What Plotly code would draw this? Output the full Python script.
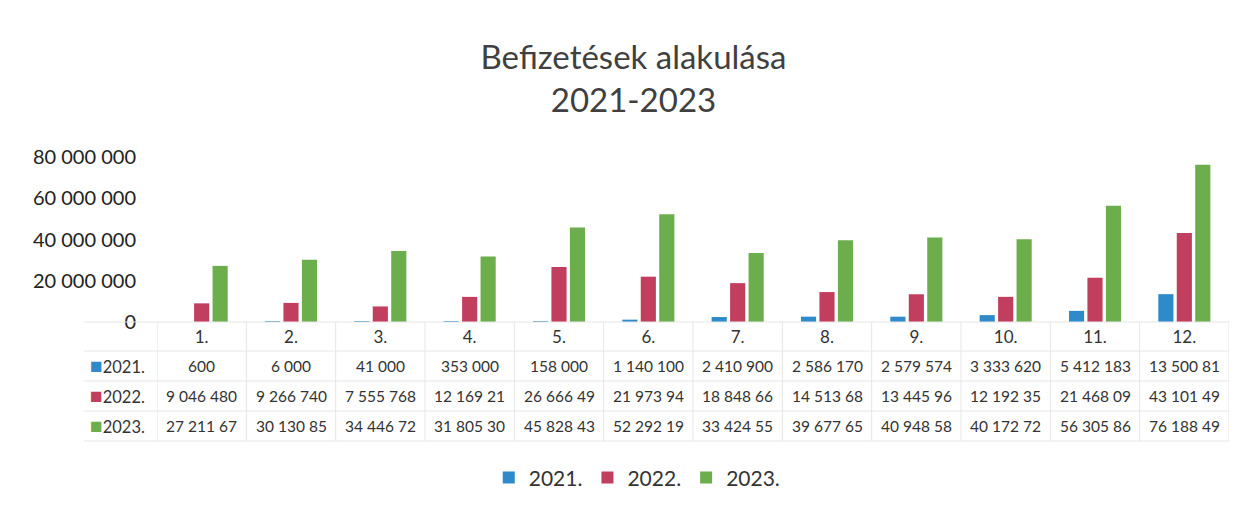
import plotly.graph_objects as go

months = ["1.", "2.", "3.", "4.", "5.", "6.", "7.", "8.", "9.", "10.", "11.", "12."]
series_names = ["2021.", "2022.", "2023."]
v2021 = [600, 6000, 41000, 353000, 158000, 1140100, 2410900, 2586170, 2579574, 3333620, 5412183, 13500810]
v2022 = [9046480, 9266740, 7555768, 12169210, 26666490, 21973940, 18848660, 14513680, 13445960, 12192350, 21468090, 43101490]
v2023 = [27211670, 30130850, 34446720, 31805300, 45828430, 52292190, 33424550, 39677650, 40948580, 40172720, 56305860, 76188490]
series_values = [v2021, v2022, v2023]
colors = ["#2F8ACB", "#C23E5E", "#6CAE4C"]
y_ticks = [0, 20000000, 40000000, 60000000, 80000000]

FONT = "Lato"
TXT = "#333333"
GRID = "#E6E6E6"
PLOT_H = 165

fig = go.Figure()
for name, vals, col in zip(series_names, series_values, colors):
    fig.add_trace(go.Bar(x=months, y=vals, name=name, marker=dict(color=col, line=dict(width=0))))


def fmt(v):
    # the table cells in the source are cut to 9 characters
    return f"{v:,}".replace(",", " ")[:9]


row_shift = [-44, -74, -104]
annotations = []
shapes = []
for r, (name, vals, col) in enumerate(zip(series_names, series_values, colors)):
    for k, v in enumerate(vals):
        annotations.append(dict(x=k, xref="x", y=0, yref="paper", yshift=row_shift[r],
                                text=fmt(v), showarrow=False, xanchor="center", yanchor="middle",
                                font=dict(family=FONT, size=15.5, color=TXT)))
    annotations.append(dict(x=0, xref="paper", y=0, yref="paper", yshift=row_shift[r] + 2, xshift=-10,
                            text=f"<span style='color:{col};font-size:21px'>■</span>{name}",
                            showarrow=False, xanchor="right", yanchor="middle",
                            font=dict(family=FONT, size=16.5, color=TXT)))

# table grid lines
n = len(months)
for k in range(n + 1):
    shapes.append(dict(type="line", xref="x", yref="paper", x0=k - 0.5, x1=k - 0.5,
                       y0=0, y1=-119 / PLOT_H, line=dict(color=GRID, width=1)))
for yy in [0, -29, -59, -89, -119]:
    shapes.append(dict(type="line", xref="paper", yref="paper", x0=-0.068, x1=1,
                       y0=yy / PLOT_H, y1=yy / PLOT_H, line=dict(color=GRID, width=1)))

fig.update_layout(
    width=1246, height=506,
    paper_bgcolor="white", plot_bgcolor="white",
    margin=dict(l=149, r=25, t=149, b=192),
    separators=", ",
    title=dict(text="Befizetések alakulása<br>2021-2023", x=0.502, xanchor="center",
               y=0.88, yanchor="middle",
               font=dict(family=FONT, size=33, color="#404040")),
    barmode="group", bargap=0.38, bargroupgap=0.18,
    xaxis=dict(range=[-0.5, 11.5], showgrid=False, showline=False, ticks="",
               ticklabelstandoff=3,
               tickfont=dict(family=FONT, size=17, color=TXT)),
    yaxis=dict(range=[0, 80000000], tickvals=y_ticks, tickformat=",d", showgrid=False,
               zeroline=False, showline=False, ticks="", ticklabelstandoff=20,
               tickfont=dict(family=FONT, size=20, color="#222222")),
    legend=dict(orientation="h", x=0.448, xanchor="center", y=-0.945, yanchor="middle",
                font=dict(family=FONT, size=21, color=TXT), itemwidth=30,
                traceorder="normal"),
    annotations=annotations, shapes=shapes,
)

fig.write_html("out.html")
